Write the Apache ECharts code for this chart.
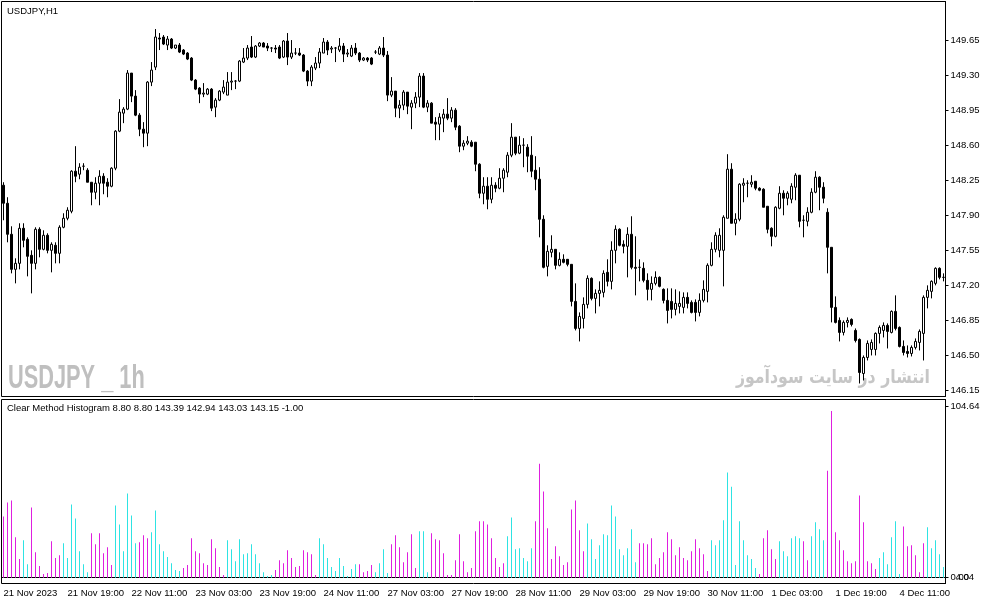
<!DOCTYPE html>
<html>
<head>
<meta charset="utf-8">
<script src="https://cdn.jsdelivr.net/npm/echarts@6/dist/echarts.min.js"></script>
<style>
    html, body {margin: 0; padding: 0; background: #fff;}
    #chart {width: 987px; height: 605px;}
</style>
</head>
<body>
<div id="chart"></div>
<script>
// trading sessions shown on the chart: [day, first hour, last hour]
const sessions = [
    ['21 Nov', 3, 23], ['22 Nov', 0, 23], ['23 Nov', 0, 23], ['24 Nov', 0, 23],
    ['27 Nov', 0, 23], ['28 Nov', 0, 23], ['29 Nov', 0, 23], ['30 Nov', 0, 23],
    ['1 Dec', 0, 23], ['4 Dec', 0, 22],
]

// one label every 16 bars
const timeLabels = [
    '21 Nov 2023', '21 Nov 19:00', '22 Nov 11:00', '23 Nov 03:00', '23 Nov 19:00',
    '24 Nov 11:00', '27 Nov 03:00', '27 Nov 19:00', '28 Nov 11:00', '29 Nov 03:00',
    '29 Nov 19:00', '30 Nov 11:00', '1 Dec 03:00', '1 Dec 19:00', '4 Dec 11:00',
]

const priceTicks = [146.15, 146.5, 146.85, 147.2, 147.55, 147.9, 148.25, 148.6, 148.95, 149.3, 149.65]
const histTicks = [0, 104.64]

// [open, high, low, close]
const ohlc = [
    [148.20, 148.23, 147.85, 148.02], [148.02, 148.08, 147.63, 147.71], [147.71, 147.79, 147.32, 147.36], [147.36, 147.47, 147.22, 147.42],
    [147.42, 147.82, 147.36, 147.77], [147.77, 147.82, 147.58, 147.65], [147.66, 147.68, 147.29, 147.49], [147.50, 147.55, 147.12, 147.42],
    [147.42, 147.78, 147.36, 147.76], [147.76, 147.78, 147.48, 147.56], [147.56, 147.75, 147.55, 147.70], [147.70, 147.72, 147.52, 147.55],
    [147.55, 147.63, 147.33, 147.61], [147.60, 147.63, 147.42, 147.52], [147.52, 147.80, 147.42, 147.78], [147.78, 147.92, 147.77, 147.87],
    [147.87, 147.98, 147.85, 147.95], [147.94, 148.35, 147.92, 148.34], [148.34, 148.59, 148.23, 148.29], [148.31, 148.42, 148.26, 148.38],
    [148.39, 148.42, 148.35, 148.39], [148.35, 148.37, 148.23, 148.23], [148.23, 148.23, 148.00, 148.13], [148.13, 148.28, 148.06, 148.22],
    [148.22, 148.35, 148.00, 148.29], [148.29, 148.32, 148.11, 148.22], [148.23, 148.27, 148.08, 148.19], [148.19, 148.38, 148.18, 148.37],
    [148.37, 148.75, 148.35, 148.74], [148.74, 149.06, 148.73, 148.93], [148.92, 148.98, 148.82, 148.96], [148.96, 149.35, 148.95, 149.32],
    [149.32, 149.32, 149.03, 149.09], [149.09, 149.15, 148.89, 148.90], [148.90, 148.92, 148.69, 148.76], [148.76, 148.83, 148.58, 148.72],
    [148.72, 149.24, 148.59, 149.23], [149.23, 149.43, 149.19, 149.35], [149.38, 149.76, 149.35, 149.68], [149.67, 149.72, 149.55, 149.66],
    [149.68, 149.70, 149.60, 149.61], [149.60, 149.69, 149.55, 149.66], [149.66, 149.67, 149.56, 149.57], [149.57, 149.60, 149.56, 149.60],
    [149.60, 149.62, 149.52, 149.53], [149.55, 149.56, 149.50, 149.51], [149.52, 149.53, 149.45, 149.46], [149.47, 149.48, 149.24, 149.25],
    [149.25, 149.26, 149.15, 149.16], [149.17, 149.18, 149.02, 149.11], [149.11, 149.22, 149.08, 149.12], [149.11, 149.17, 149.10, 149.16],
    [149.16, 149.17, 148.94, 148.97], [148.98, 149.07, 148.88, 149.05], [149.05, 149.15, 149.04, 149.14], [149.13, 149.25, 149.11, 149.18],
    [149.10, 149.33, 149.10, 149.23], [149.23, 149.33, 149.15, 149.24], [149.24, 149.25, 149.16, 149.24], [149.24, 149.45, 149.23, 149.44],
    [149.43, 149.57, 149.42, 149.47], [149.47, 149.60, 149.45, 149.57], [149.58, 149.69, 149.47, 149.48], [149.48, 149.60, 149.47, 149.59],
    [149.59, 149.63, 149.58, 149.62], [149.62, 149.63, 149.58, 149.58], [149.59, 149.62, 149.54, 149.57], [149.57, 149.58, 149.53, 149.57],
    [149.57, 149.60, 149.52, 149.56], [149.58, 149.60, 149.46, 149.47], [149.48, 149.65, 149.47, 149.64], [149.64, 149.72, 149.40, 149.48],
    [149.48, 149.65, 149.46, 149.52], [149.52, 149.57, 149.50, 149.52], [149.52, 149.57, 149.49, 149.50], [149.50, 149.51, 149.33, 149.34],
    [149.34, 149.35, 149.19, 149.24], [149.24, 149.40, 149.19, 149.38], [149.37, 149.48, 149.35, 149.42], [149.42, 149.57, 149.37, 149.53],
    [149.52, 149.67, 149.52, 149.63], [149.63, 149.65, 149.50, 149.55], [149.56, 149.59, 149.52, 149.57], [149.57, 149.58, 149.43, 149.57],
    [149.55, 149.67, 149.53, 149.59], [149.59, 149.62, 149.43, 149.51], [149.51, 149.56, 149.48, 149.52], [149.49, 149.60, 149.48, 149.57],
    [149.57, 149.62, 149.50, 149.52], [149.52, 149.53, 149.43, 149.45], [149.45, 149.48, 149.44, 149.47], [149.47, 149.48, 149.43, 149.45],
    [149.47, 149.48, 149.40, 149.41], [149.53, 149.55, 149.51, 149.53], [149.51, 149.59, 149.50, 149.57], [149.57, 149.68, 149.48, 149.50],
    [149.50, 149.54, 149.04, 149.10], [149.10, 149.28, 149.08, 149.14], [149.14, 149.14, 148.88, 148.97], [148.97, 149.05, 148.87, 149.00],
    [149.00, 149.15, 148.95, 149.13], [149.13, 149.13, 148.91, 148.99], [148.98, 149.05, 148.76, 149.02], [149.02, 149.13, 148.97, 149.08],
    [149.08, 149.32, 148.98, 149.29], [149.29, 149.32, 148.97, 148.98], [148.98, 149.05, 148.93, 149.02], [149.02, 149.03, 148.82, 148.82],
    [148.83, 148.88, 148.65, 148.81], [148.81, 148.92, 148.65, 148.88], [148.87, 148.96, 148.73, 148.91], [148.91, 149.07, 148.85, 148.87],
    [148.87, 148.98, 148.83, 148.95], [148.95, 148.97, 148.75, 148.78], [148.79, 148.80, 148.53, 148.59], [148.59, 148.65, 148.55, 148.62],
    [148.62, 148.69, 148.60, 148.64], [148.63, 148.65, 148.58, 148.59], [148.63, 148.63, 148.34, 148.41], [148.41, 148.42, 148.07, 148.12],
    [148.12, 148.28, 148.01, 148.19], [148.19, 148.28, 147.96, 148.06], [148.06, 148.28, 148.02, 148.20], [148.20, 148.23, 148.13, 148.17],
    [148.17, 148.37, 148.16, 148.27], [148.27, 148.37, 148.13, 148.35], [148.33, 148.53, 148.28, 148.50], [148.50, 148.82, 148.48, 148.68],
    [148.68, 148.68, 148.50, 148.52], [148.52, 148.69, 148.51, 148.60], [148.60, 148.67, 148.38, 148.60], [148.58, 148.61, 148.33, 148.49],
    [148.50, 148.69, 148.28, 148.34], [148.35, 148.49, 148.15, 148.26], [148.26, 148.38, 147.68, 147.86], [147.86, 147.90, 147.37, 147.38],
    [147.39, 147.60, 147.29, 147.54], [147.53, 147.70, 147.48, 147.56], [147.56, 147.56, 147.36, 147.40], [147.40, 147.53, 147.39, 147.46],
    [147.46, 147.51, 147.42, 147.43], [147.46, 147.46, 147.39, 147.41], [147.41, 147.41, 146.99, 147.04], [147.04, 147.22, 146.75, 146.77],
    [146.77, 146.93, 146.64, 146.89], [146.87, 147.08, 146.77, 147.01], [147.01, 147.30, 146.97, 147.27], [147.27, 147.28, 147.05, 147.07],
    [147.07, 147.16, 146.92, 147.12], [147.12, 147.24, 146.99, 147.15], [147.13, 147.35, 147.08, 147.32], [147.33, 147.46, 147.19, 147.24],
    [147.24, 147.64, 147.16, 147.55], [147.55, 147.80, 147.42, 147.76], [147.76, 147.77, 147.59, 147.60], [147.61, 147.65, 147.52, 147.59],
    [147.59, 147.78, 147.28, 147.71], [147.71, 147.89, 147.36, 147.38], [147.38, 147.69, 147.10, 147.37], [147.38, 147.46, 147.24, 147.38],
    [147.37, 147.43, 147.23, 147.25], [147.25, 147.32, 147.05, 147.16], [147.16, 147.29, 147.05, 147.22], [147.22, 147.34, 147.20, 147.28],
    [147.28, 147.29, 147.18, 147.19], [147.16, 147.17, 147.02, 147.05], [147.05, 147.17, 146.82, 146.95], [147.04, 147.17, 146.87, 146.96],
    [146.96, 147.16, 146.90, 147.02], [146.99, 147.14, 146.92, 147.02], [146.98, 147.13, 146.92, 147.08], [147.08, 147.13, 146.97, 147.02],
    [147.03, 147.05, 146.92, 146.93], [147.03, 147.06, 146.84, 146.93], [146.93, 147.12, 146.89, 147.05], [147.05, 147.25, 147.03, 147.16],
    [147.14, 147.42, 147.03, 147.40], [147.40, 147.63, 147.39, 147.56], [147.56, 147.73, 147.53, 147.70], [147.55, 147.77, 147.48, 147.70],
    [147.55, 147.90, 147.19, 147.88], [147.87, 148.51, 147.87, 148.36], [148.36, 148.42, 147.82, 147.82], [147.82, 147.92, 147.70, 147.86],
    [147.86, 148.22, 147.84, 148.21], [148.20, 148.27, 148.03, 148.22], [148.22, 148.25, 148.08, 148.22], [148.21, 148.30, 148.18, 148.23],
    [148.24, 148.24, 148.15, 148.17], [148.17, 148.18, 148.14, 148.15], [148.16, 148.17, 147.98, 147.98], [147.99, 147.99, 147.72, 147.76],
    [147.77, 147.78, 147.59, 147.69], [147.69, 147.99, 147.68, 147.98], [147.97, 148.19, 147.96, 148.12], [148.12, 148.15, 147.90, 148.07],
    [148.07, 148.14, 148.00, 148.12], [148.06, 148.22, 148.02, 148.19], [148.18, 148.32, 148.05, 148.30], [148.30, 148.30, 147.78, 147.84],
    [147.85, 147.90, 147.68, 147.85], [147.84, 147.98, 147.79, 147.93], [147.93, 148.17, 147.92, 148.13], [148.13, 148.34, 148.12, 148.28],
    [148.28, 148.29, 147.95, 148.18], [148.18, 148.23, 148.02, 148.07], [147.93, 147.97, 147.32, 147.58], [147.58, 147.58, 146.83, 146.98],
    [146.98, 147.09, 146.82, 146.83], [146.85, 146.88, 146.64, 146.73], [146.73, 146.85, 146.70, 146.83], [146.83, 146.88, 146.78, 146.85],
    [146.86, 146.87, 146.79, 146.81], [146.75, 146.77, 146.63, 146.65], [146.66, 146.67, 146.22, 146.33], [146.32, 146.50, 146.25, 146.48],
    [146.48, 146.65, 146.45, 146.62], [146.56, 146.66, 146.50, 146.63], [146.56, 146.73, 146.50, 146.72], [146.72, 146.80, 146.62, 146.78],
    [146.75, 146.83, 146.68, 146.80], [146.80, 146.82, 146.57, 146.74], [146.73, 146.95, 146.72, 146.94], [146.94, 147.10, 146.75, 146.77],
    [146.78, 146.79, 146.58, 146.59], [146.59, 146.65, 146.50, 146.53], [146.54, 146.60, 146.48, 146.52], [146.52, 146.60, 146.49, 146.58],
    [146.58, 146.67, 146.56, 146.64], [146.63, 146.76, 146.55, 146.74], [146.72, 147.10, 146.45, 147.08], [147.08, 147.20, 146.97, 147.15],
    [147.14, 147.25, 147.07, 147.24], [147.22, 147.38, 147.20, 147.37], [147.37, 147.38, 147.26, 147.28], [147.28, 147.32, 147.24, 147.28],
]

// Clear Method histogram heights
const histValues = [
    37.5, 46.0, 47.2, 24.7, 11.4, 22.9, 8.3, 43.0, 15.6, 7.1, 2.2, 2.8, 22.3, 12.0, 13.8, 21.1,
    12.0, 44.8, 36.3, 16.2, 8.3, 3.4, 27.2, 20.5, 27.2, 15.0, 18.6, 7.7, 44.2, 32.6, 16.2, 51.5,
    38.1, 21.1, 21.7, 25.9, 24.1, 27.8, 41.1, 20.5, 16.2, 12.6, 8.9, 4.7, 4.1, 5.9, 7.7, 24.1,
    16.2, 15.0, 8.9, 7.7, 23.5, 18.0, 6.5, 1.6, 22.9, 17.4, 10.1, 23.5, 14.4, 15.0, 20.5, 14.4,
    8.9, 3.4, 1.0, 1.6, 4.7, 10.7, 8.9, 16.8, 12.0, 6.5, 7.1, 16.8, 15.6, 14.4, 1.6, 24.1,
    20.5, 12.0, 6.5, 4.1, 12.0, 7.1, 1.0, 5.3, 8.3, 8.3, 3.4, 4.1, 7.7, 3.4, 8.9, 17.4,
    2.8, 20.5, 25.9, 18.6, 9.5, 15.6, 26.6, 5.9, 28.4, 28.4, 3.4, 27.2, 23.5, 22.9, 15.0, 1.6,
    1.6, 10.7, 26.6, 10.1, 3.4, 5.9, 28.4, 34.5, 34.5, 32.6, 24.1, 12.0, 6.5, 8.9, 25.3, 36.9,
    17.4, 18.0, 12.0, 10.1, 18.0, 34.5, 69.7, 52.7, 30.2, 11.4, 19.3, 13.2, 7.7, 9.5, 41.8, 47.2,
    29.0, 16.2, 33.2, 23.5, 11.4, 19.9, 26.6, 25.9, 44.2, 37.5, 17.4, 13.8, 18.0, 29.6, 9.5, 21.1,
    21.1, 20.5, 24.1, 8.3, 12.0, 15.6, 27.8, 23.5, 13.8, 18.6, 12.0, 10.7, 16.2, 23.5, 18.0, 14.4,
    4.1, 22.9, 19.9, 22.9, 35.1, 64.3, 55.7, 7.7, 34.5, 22.9, 13.8, 11.4, 5.9, 2.2, 24.1, 29.0,
    17.4, 11.4, 22.3, 16.2, 13.2, 24.1, 25.3, 24.1, 22.3, 10.7, 25.3, 33.9, 29.6, 22.9, 65.5, 102.0,
    27.8, 22.9, 16.8, 10.1, 8.9, 10.1, 50.3, 33.9, 10.1, 8.9, 5.3, 12.0, 15.6, 8.3, 24.7, 34.5,
    2.2, 31.4, 19.3, 19.9, 13.8, 3.4, 21.1, 30.8, 18.0, 22.9, 14.4, 6.5,
]

// swing side of every histogram bar: U = up (aqua), D = down (magenta)
const histSide = (
    'DDDDD UU DDDDDDDD UUUUUUU DDDDDD UUUUUU DDD UUUUUUUU DDDDDDDDDDD UUUUUUUUUUUU ' +
    'DDDDDDDDDDD UUUUUUUUUU DDDD UUUU DDDDDDD UUU DDDDDDDDDDDDDDDDDDD UUUUUUU ' +
    'DDDDDDDDDDDDD UUUUUUUUUUUUU DDDDDDDDDDDDDDDDDD UUUUUUUUUUUU DDDDD UUUUUU DD UUUU ' +
    'DDDDDDDDDDDDD UUUUUU DDDDDD UUUUU'
).replace(/ /g, '')

const indicatorLabel = 'Clear Method Histogram 8.80 8.80 143.39 142.94 143.03 143.15 -1.00'

const FONT = '"Liberation Sans", Arial, sans-serif'
const UP_COLOR = '#2ee3e3'
const DOWN_COLOR = '#df1fdf'

const categories = []
sessions.forEach(([day, from, to]) => {
    for (let h = from; h <= to; h++) {
        categories.push(`${day} ${String(h).padStart(2, '0')}:00`)
    }
})

const myChart = echarts.init(document.getElementById('chart'), null, {renderer: 'canvas'})
myChart.setOption({
    animation: false,
    backgroundColor: '#fff',
    textStyle: {fontFamily: FONT},
    grid: [
        {left: 1.5, top: 1.5, width: 944, height: 395, show: true, borderColor: '#000', borderWidth: 1},
        {left: 1.5, top: 399.5, width: 944, height: 184, show: true, borderColor: '#000', borderWidth: 1},
    ],
    xAxis: [
        {
            type: 'category',
            gridIndex: 0,
            data: categories,
            axisLine: {show: false},
            axisTick: {show: false},
            axisLabel: {show: false},
            splitLine: {show: false},
        },
        {
            type: 'category',
            gridIndex: 1,
            data: categories,
            axisLine: {lineStyle: {color: '#000', width: 1}},
            axisTick: {interval: 15, alignWithLabel: true, length: 4, lineStyle: {color: '#000'}},
            axisLabel: {
                interval: 15,
                align: 'left',
                margin: 5,
                color: '#000',
                fontSize: 9.5,
                fontFamily: FONT,
                formatter(value, index) {
                    return timeLabels[index / 16] || ''
                },
            },
            splitLine: {show: false},
        },
    ],
    yAxis: [
        {
            type: 'value',
            gridIndex: 0,
            position: 'right',
            min: 146.09,
            max: 150.035,
            splitLine: {show: false},
            axisLine: {show: true, lineStyle: {color: '#000'}},
            axisTick: {show: true, customValues: priceTicks, length: 3, lineStyle: {color: '#000'}},
            axisLabel: {
                customValues: priceTicks,
                formatter: (v) => v.toFixed(2),
                color: '#000',
                fontSize: 9.5,
                fontFamily: FONT,
                margin: 5,
            },
        },
        {
            type: 'value',
            gridIndex: 1,
            position: 'right',
            min: -3.55,
            max: 109.04,
            splitLine: {show: false},
            axisLine: {show: true, lineStyle: {color: '#000'}},
            axisTick: {show: true, customValues: histTicks, length: 3, lineStyle: {color: '#000'}},
            axisLabel: {
                customValues: histTicks,
                formatter: (v) => v.toFixed(2),
                color: '#000',
                fontSize: 9.5,
                fontFamily: FONT,
                margin: 5,
            },
        },
    ],
    graphic: [
        {
            type: 'text', x: 8, y: 379, scaleX: 0.66, z: 0,
            style: {text: 'USDJPY _ 1h', font: `bold 33px ${FONT}`, fill: '#bfbfbf', verticalAlign: 'middle'},
        },
        {
            type: 'text', x: 930, y: 378, scaleX: 0.83, z: 0,
            style: {text: 'انتشار در سایت سودآموز', font: 'bold 19px "DejaVu Sans", sans-serif', fill: '#c6c6c6', align: 'right', verticalAlign: 'middle'},
        },
        {
            type: 'text', x: 7, y: 11, z: 10,
            style: {text: 'USDJPY,H1', font: `9.5px ${FONT}`, fill: '#000', verticalAlign: 'middle'},
        },
        {
            type: 'text', x: 7, y: 408.5, z: 10,
            style: {text: indicatorLabel, font: `9.5px ${FONT}`, fill: '#000', verticalAlign: 'middle'},
        },
        {
            type: 'text', x: 955.5, y: 577.7, z: 10,
            style: {text: '4.04', font: `9.5px ${FONT}`, fill: '#000', verticalAlign: 'middle'},
        },
    ],
    series: [
        {
            type: 'candlestick',
            xAxisIndex: 0,
            yAxisIndex: 0,
            data: ohlc.map(([o, h, l, c]) => [o, c, l, h]),
            barWidth: 2,
            itemStyle: {
                color: '#fff',
                color0: '#000',
                borderColor: '#000',
                borderColor0: '#000',
                borderColorDoji: '#000',
                borderWidth: 1,
            },
        },
        {
            type: 'bar',
            xAxisIndex: 1,
            yAxisIndex: 1,
            barWidth: 1,
            data: histValues.map((v, i) => ({
                value: v,
                itemStyle: {color: histSide[i] === 'U' ? UP_COLOR : DOWN_COLOR},
            })),
        },
    ],
})
</script>
</body>
</html>
